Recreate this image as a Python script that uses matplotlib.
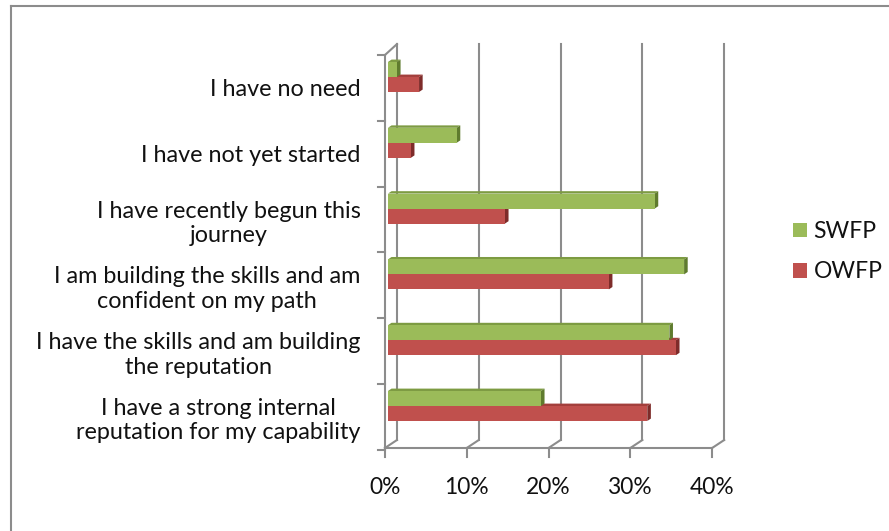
import numpy as np
import matplotlib.pyplot as plt
from matplotlib.patches import Patch, Polygon
from matplotlib.lines import Line2D

plt.rcParams['font.family'] = ['Lato', 'DejaVu Sans']

categories = [
    "I have no need",
    "I have not yet started",
    "I have recently begun this\njourney",
    "I am building the skills and am\nconfident on my path",
    "I have the skills and am building\nthe reputation",
    "I have a strong internal\nreputation for my capability",
]
swfp = [1.1, 8.4, 32.6, 36.2, 34.4, 18.7]
owfp = [3.8, 2.8, 14.3, 27.0, 35.2, 31.7]
series_names = ["SWFP", "OWFP"]
x_ticks = [0, 10, 20, 30, 40]
x_labels = ["0%", "10%", "20%", "30%", "40%"]

green, green_top, green_side = "#9BBB59", "#7D9B42", "#5F7B2E"
red, red_top, red_side = "#C0504D", "#A33F3C", "#7E2C2A"
grid_c = "#8C8C8C"

# oblique projection used to fake the 3-D look (data units)
front_dx, front_top, front_floor = -0.367, -0.334, 5.638
back_dx, back_top, back_floor = 1.10, -0.50, 5.517
bar_ddx, bar_ddy = 0.44, -0.0365
bar_h = 0.228

fig = plt.figure(figsize=(8.89, 5.31), dpi=100)
ax = fig.add_axes([371.6 / 889, (531 - 471.8) / 531, (747.9 - 371.6) / 889, (471.8 - 37.5) / 531])
ax.set_xlim(-2, 44)
ax.set_ylim(6.0, -0.6)
for s in ax.spines.values():
    s.set_visible(False)

# back wall gridlines and floor diagonals
for v in x_ticks:
    ax.plot([v + back_dx] * 2, [back_top, back_floor], color=grid_c, lw=1.5, zorder=1)
    ax.plot([v + front_dx, v + back_dx], [front_floor, back_floor], color=grid_c, lw=1.5, zorder=1)
    ax.plot([v + front_dx] * 2, [front_floor, front_floor + 0.13], color=grid_c, lw=1.5, zorder=1,
            clip_on=False)

# front left wall and floor edge
ax.plot([front_dx, front_dx], [front_top, front_floor], color=grid_c, lw=1.5, zorder=1)
ax.plot([front_dx, back_dx], [front_top, back_top], color=grid_c, lw=1.5, zorder=1)
ax.plot([front_dx, x_ticks[-1] + front_dx], [front_floor, front_floor], color=grid_c, lw=1.5, zorder=1)
for k in range(len(categories) + 1):
    yk = k + front_top
    ax.plot([front_dx - 0.85, front_dx], [yk, yk], color=grid_c, lw=1.5, zorder=1)


def bar3d(y0, v, face, top, side):
    y1 = y0 + bar_h
    ax.add_patch(Polygon([(0, y0), (v, y0), (v + bar_ddx, y0 + bar_ddy), (bar_ddx, y0 + bar_ddy)],
                         closed=True, facecolor=top, edgecolor='none', zorder=2))
    ax.add_patch(Polygon([(v, y0), (v, y1), (v + bar_ddx, y1 + bar_ddy), (v + bar_ddx, y0 + bar_ddy)],
                         closed=True, facecolor=side, edgecolor='none', zorder=2))
    ax.barh(y0 + bar_h / 2, v, height=bar_h, left=0, color=face, edgecolor='none', zorder=3)


for i in range(len(categories)):
    bar3d(i, owfp[i], red, red_top, red_side)
for i in range(len(categories)):
    bar3d(i - bar_h, swfp[i], green, green_top, green_side)

ax.set_yticks(np.arange(len(categories)) + 0.166)
ax.set_yticklabels(categories, fontsize=16.8, linespacing=1.2, ha='right', multialignment='center',
                   color='#111111')
ax.set_xticks(np.array(x_ticks) + front_dx)
ax.set_xticklabels(x_labels, fontsize=16.4, color='#111111')
ax.tick_params(axis='y', length=0, pad=8)
ax.tick_params(axis='x', length=0, pad=4)

handles = [Patch(facecolor=green, edgecolor='none'), Patch(facecolor=red, edgecolor='none')]
leg = fig.legend(handles, series_names, loc='upper left', bbox_to_anchor=(793 / 889, 1 - 221 / 531),
                 frameon=False, fontsize=16.5, borderpad=0, borderaxespad=0, handlelength=0.62,
                 handleheight=0.62, handletextpad=0.28, labelspacing=0.85)
for t in leg.get_texts():
    t.set_color('#111111')

# chart area border
fig.add_artist(Line2D([11 / 889, 11 / 889], [0, 1 - 6 / 531], color="#8C8C8C", lw=1.5))
fig.add_artist(Line2D([11 / 889, 1], [1 - 6 / 531, 1 - 6 / 531], color="#8C8C8C", lw=1.5))

fig.savefig("out.png", dpi=100)
